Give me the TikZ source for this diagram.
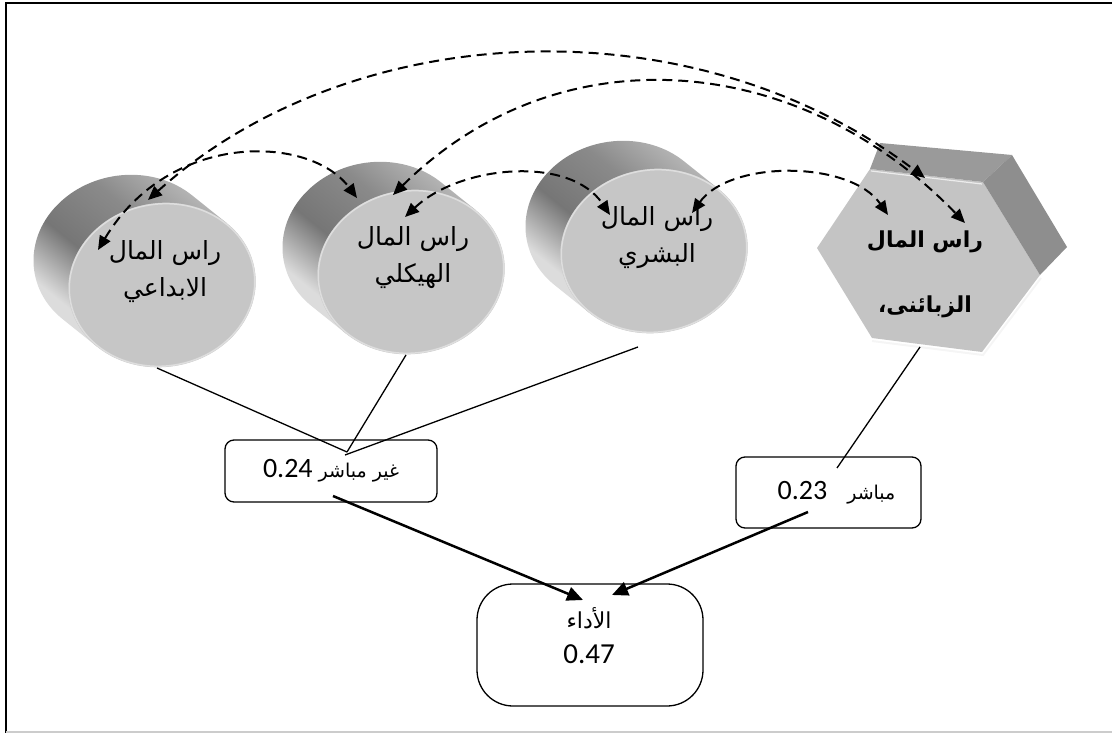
\documentclass[tikz,border=0pt]{standalone}
\usepackage{fontspec}
\setmainfont{Carlito}
\newfontfamily\arabicfont[Script=Arabic]{DejaVu Sans}
\newfontfamily\numfont{Carlito}
\TeXXeTstate=1
\usetikzlibrary{arrows.meta}
\definecolor{cA}{HTML}{DCDCDC}
\definecolor{cB}{HTML}{767676}
\definecolor{cC}{HTML}{8A8A8A}
\definecolor{cD}{HTML}{B8B8B8}
\definecolor{facegray}{HTML}{C6C6C6}
\definecolor{rimgray}{HTML}{DEDEDE}
\definecolor{hexfront}{HTML}{C4C4C4}
\definecolor{hextop}{HTML}{9A9A9A}
\definecolor{hexside}{HTML}{8E8E8E}
\pgfdeclarehorizontalshading{cylbody}{100bp}{color(0bp)=(cA); color(30bp)=(cA); color(44bp)=(cB); color(60bp)=(cC); color(75bp)=(cD); color(100bp)=(cD)}
\newcommand\capcyl[2]{%
  \begin{scope}[shift={(#1,#2)}, rotate=9]
    \path[shading=cylbody, shading angle=51]
      (141.6:94 and 82) -- ++(-30,-33)
      arc[start angle=141.6, end angle=321.6, x radius=94, y radius=82]
      -- ++(30,33) -- cycle;
    \fill[facegray] (0,0) ellipse[x radius=94, y radius=82];
    \draw[rimgray, line width=1.5pt] (0,0) ellipse[x radius=93, y radius=81];
  \end{scope}}
\tikzset{
  dasharrow/.style={line width=2pt, dash pattern=on 10pt off 6pt,
    {Triangle[length=14pt,width=12pt]}-{Triangle[length=14pt,width=12pt]}},
  solidarrow/.style={line width=2.5pt, -{Triangle[length=16pt,width=14pt]}},
  link/.style={line width=1.3pt},
  box/.style={draw, line width=1.3pt, rounded corners=9pt, fill=white, inner sep=0pt},
  captext/.style={font=\arabicfont\fontsize{25}{37}\selectfont, align=center, inner sep=0pt},
}
\begin{document}
\begin{tikzpicture}[x=1pt,y=-1pt]
\useasboundingbox (0,0) rectangle (1112,733);
% frame
\draw[line width=2.2pt] (6,733) -- (6,3) -- (1112,3);
\draw[black!20, line width=1.5pt] (6,732) -- (1112,732);
% cylinders
\capcyl{162}{285}
\capcyl{411}{272}
\capcyl{654}{251}
% hexagon
\fill[hexfront] (817,248) -- (870,169) -- (983,182) -- (1040,275) -- (982,352) -- (872,338) -- cycle;
\fill[hextop] (870,169) -- (880,143) -- (1012,155) -- (983,182) -- cycle;
\fill[hexside] (983,182) -- (1012,155) -- (1067,247) -- (1040,275) -- cycle;
\draw[white!92!gray, line width=2pt] (1041,278) -- (983,355) -- (872,341);
\draw[white!85!gray, line width=1.2pt] (871,171) -- (982,184);
% text of shapes
\node[captext] (ibd) at (165,272) {\beginR راس المال\endR\\\beginR الابداعي\endR};
\node[captext] (hay) at (413,258) {\beginR راس المال\endR\\\beginR الهيكلي\endR};
\node[captext] (bash) at (657,238) {\beginR راس المال\endR\\\beginR البشري\endR};
\node[captext, font=\arabicfont\bfseries\fontsize{22}{65}\selectfont] (zab) at (925,274) {\beginR راس المال\endR\\\beginR الزبائنى،\endR};
% boxes
\node[box, minimum width=212pt, minimum height=62pt] (ind) at (331,471)
  {\arabicfont\fontsize{19}{25}\selectfont\beginR غير مباشر \beginL{\numfont\fontsize{28}{30}\selectfont 0.24}\endL\endR};
\node[box, minimum width=185pt, minimum height=71pt] (dir) at (828.5,492.5)
  {\hspace*{16pt}\arabicfont\fontsize{19}{25}\selectfont\beginR مباشر\hspace{20pt}\beginL{\numfont\fontsize{28}{30}\selectfont 0.23}\endL\endR};
\node[box, rounded corners=36pt, minimum width=226pt, minimum height=122pt] (perf) at (590,645) {};
\node[align=center, inner sep=0pt, font=\fontsize{22}{35}\selectfont] (perftext) at (589,636)
  {{\arabicfont\beginR الأداء\endR}\\{\numfont\fontsize{29}{35}\selectfont 0.47}};
% connector end points
\coordinate (ibdB) at (157,368);
\coordinate (hayB) at (406,355);
\coordinate (bashB) at (638,347);
\coordinate (zabB) at (920,347);
\coordinate (indT) at (347,452);
\coordinate (indT2) at (345,455);
\coordinate (dirT) at (837,468);
\coordinate (indO) at (333,496);
\coordinate (dirO) at (808,512);
\coordinate (perfA) at (583,600);
\coordinate (perfB) at (612,595);
\coordinate (a1) at (148,200);
\coordinate (a2) at (98,250);
\coordinate (b1) at (393,195);
\coordinate (b2) at (357,198);
\coordinate (b3) at (405,217);
\coordinate (c1) at (610,215);
\coordinate (c2) at (692,213);
\coordinate (h1) at (925,178);
\coordinate (h2) at (965,223);
\coordinate (h3) at (888,215);
% links
\draw[link] (ibdB) -- (indT);
\draw[link] (hayB) -- (indT);
\draw[link] (bashB) -- (indT2);
\draw[link] (zabB) -- (dirT);
\draw[solidarrow] (indO) -- (perfA);
\draw[solidarrow] (dirO) -- (perfB);
% dashed arcs
\draw[dasharrow] (a1) .. controls (350,18) and (690,0) .. (h1);
\draw[dasharrow] (b1) .. controls (560,30) and (800,52) .. (h2);
\draw[dasharrow] (a2) .. controls (170,130) and (310,135) .. (b2);
\draw[dasharrow] (b3) .. controls (460,165) and (570,155) .. (c1);
\draw[dasharrow] (c2) .. controls (730,160) and (850,160) .. (h3);
\end{tikzpicture}
\end{document}
